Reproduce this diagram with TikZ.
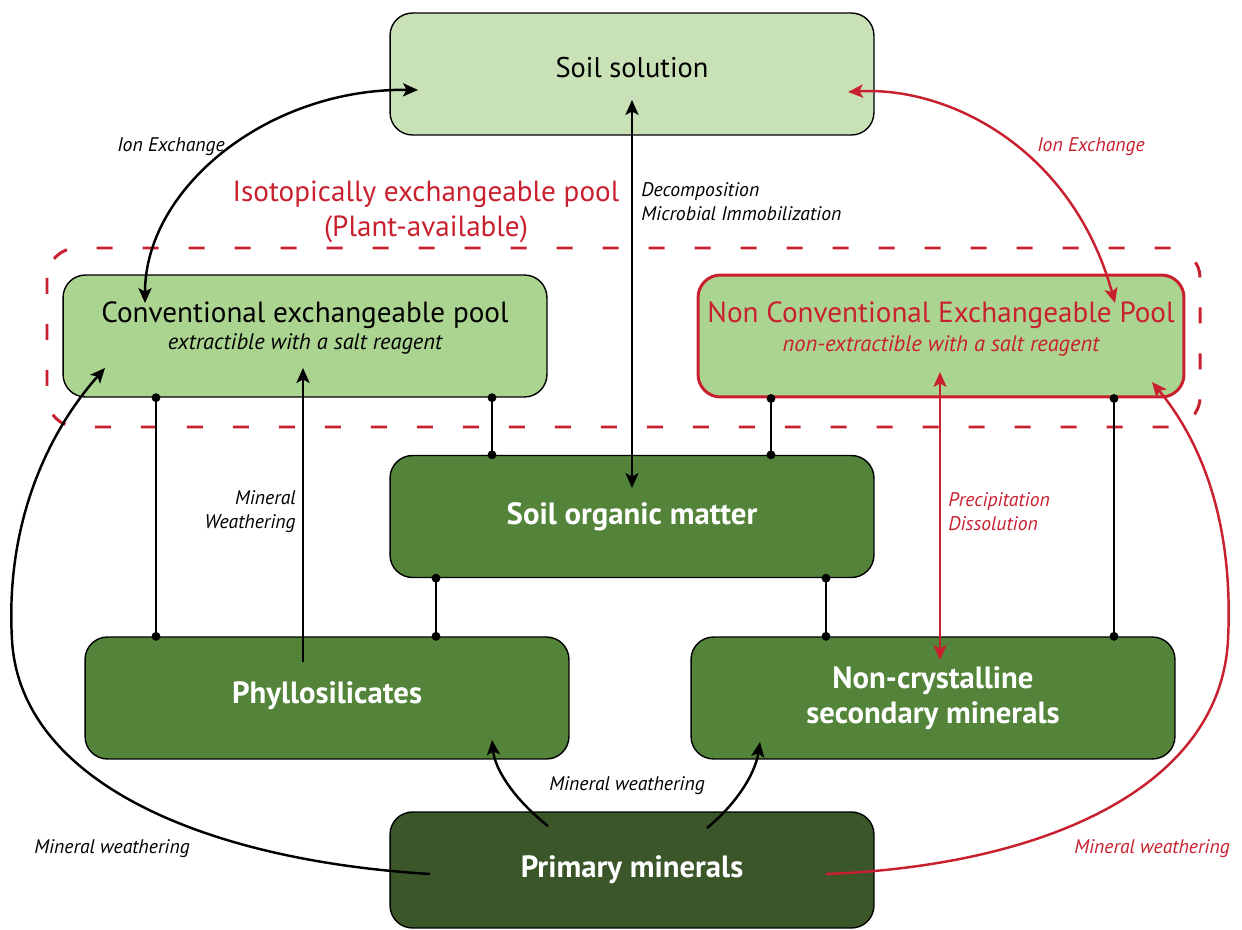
\documentclass[tikz,border=0pt]{standalone}
\usepackage{fontspec}
\setmainfont{PT Sans}
\usetikzlibrary{arrows.meta,calc}
\definecolor{solfill}{HTML}{C8E1B6}
\definecolor{poolfill}{HTML}{ABD491}
\definecolor{midgreen}{HTML}{53843A}
\definecolor{darkgreen}{HTML}{3B572A}
\definecolor{myred}{HTML}{C9202F}
\begin{document}
\begin{tikzpicture}[x=0.02cm,y=-0.02cm,
  >={Stealth[length=8.5pt,width=7.5pt,inset=2pt]},
  box/.style={draw=black, line width=0.8pt, rounded corners=0.45cm, minimum width=9.68cm, minimum height=2.44cm, align=center, inner sep=0pt},
  titlefont/.style={font=\fontsize{16.6}{20}\selectfont, inner sep=0pt},
  subfont/.style={font=\fontsize{12.8}{15}\selectfont\itshape, inner sep=0pt},
  boldwhite/.style={text=white, font=\fontsize{17.5}{19.8}\selectfont\bfseries},
  lbl/.style={font=\fontsize{11.2}{13.6}\selectfont\itshape, inner sep=0pt},
  flow/.style={line width=1.4pt},
  dotline/.style={line width=0.6pt, {Circle[length=5pt]}-{Circle[length=5pt]}, shorten <=-2.5pt, shorten >=-2.5pt}
]
\useasboundingbox (0,0) rectangle (1242,930);

% pool outline
\draw[myred, line width=1.7pt, dash pattern=on 0.32cm off 0.6cm, rounded corners=0.6cm] (47,248) rectangle (1200,427);

% boxes
\node[box, fill=solfill, font=\fontsize{16.2}{20}\selectfont] (sol) at (632,74) {\raisebox{3.4pt}[\height][\depth]{Soil solution}};
\node[box, fill=poolfill] (conv) at (305,336) {};
\node[box, fill=poolfill, draw=myred, line width=1.7pt, minimum width=9.72cm] (nc) at (941,336) {};
\node[box, fill=midgreen, boldwhite] (som) at (632,516.5) {Soil organic matter};
\node[box, fill=midgreen, boldwhite] (phyl) at (327,698) {\raisebox{1.5pt}[\height][\depth]{Phyllosilicates}};
\node[box, fill=midgreen, boldwhite] (ncm) at (933,698) {Non-crystalline\\secondary minerals};
\node[box, fill=darkgreen, boldwhite, minimum height=2.32cm] (prim) at (632,870) {Primary minerals};

% texts of the pool boxes
\node[titlefont] (convT) at (305,315) {Conventional exchangeable pool};
\node[subfont] (convS) at (305,344) {extractible with a salt reagent};
\node[titlefont, text=myred] (ncT) at (941,315) {Non Conventional Exchangeable Pool};
\node[subfont, text=myred] (ncS) at (941,346) {non-extractible with a salt reagent};

% dot connectors
\draw[dotline] (conv.south -| 156,0) -- (phyl.north -| 156,0);
\draw[dotline] (conv.south -| 492,0) -- (som.north -| 492,0);
\draw[dotline] (nc.south -| 771,0) -- (som.north -| 771,0);
\draw[dotline] (nc.south -| 1114,0) -- (ncm.north -| 1114,0);
\draw[dotline] (som.south -| 436,0) -- (phyl.north -| 436,0);
\draw[dotline] (som.south -| 826,0) -- (ncm.north -| 826,0);

% coordinates for arrow ends inside boxes
\coordinate (convIE) at (145,303);
\coordinate (solIEl) at (418,90);
\coordinate (solIEr) at (848,92);
\coordinate (ncIE) at (1115,303);
\coordinate (solV) at (632,100);
\coordinate (somV) at (632,488);
\coordinate (phylW) at (303,662);
\coordinate (convW) at (303,368);
\coordinate (ncP) at (940,372);
\coordinate (ncmP) at (940,660);
\coordinate (primL) at (548,826);
\coordinate (phylE) at (492,740);
\coordinate (primR) at (707,828);
\coordinate (ncmE) at (760,742);
\coordinate (primBL) at (430,874);
\coordinate (convBL) at (105,368);
\coordinate (primBR) at (826,874);
\coordinate (ncBR) at (1152,382);

% flows
\draw[flow, <->] (convIE) .. controls (145,188) and (268,88) .. (solIEl);
\draw[flow, myred, <->] (solIEr) .. controls (948,86) and (1072,148) .. (ncIE);
\draw[flow, <->] (solV) -- (somV);
\draw[flow, ->] (phylW) -- (convW);
\draw[flow, myred, <->] (ncP) -- (ncmP);
\draw[flow, ->] (primL) .. controls (515,800) and (495,770) .. (phylE);
\draw[flow, ->] (primR) .. controls (735,805) and (755,775) .. (ncmE);
\draw[flow, ->] (primBL) .. controls (200,860) and (20,780) .. (12,640) .. controls (5,520) and (50,430) .. (convBL);
\draw[flow, myred, ->] (primBR) .. controls (1040,866) and (1220,790) .. (1228,640) .. controls (1234,520) and (1200,440) .. (ncBR);

% labels
\node[lbl] (l1) at (171,147) {Ion Exchange};
\node[lbl, text=myred] (l2) at (1091,147) {Ion Exchange};
\node[lbl, anchor=west, align=left] (l3) at (641,202) {Decomposition\\Microbial Immobilization};
\node[text=myred, align=center, font=\fontsize{16.6}{19.8}\selectfont, inner sep=0pt] (l4) at (426,212) {Isotopically exchangeable pool\\(Plant-available)};
\node[lbl, anchor=east, align=right] (l5) at (296,512) {Mineral\\Weathering};
\node[lbl, anchor=west, align=left, text=myred] (l6) at (948,512) {Precipitation\\Dissolution};
\node[lbl] (l7) at (627,786) {Mineral weathering};
\node[lbl] (l8) at (112,849) {Mineral weathering};
\node[lbl, text=myred] (l9) at (1152,849) {Mineral weathering};
\end{tikzpicture}
\end{document}
